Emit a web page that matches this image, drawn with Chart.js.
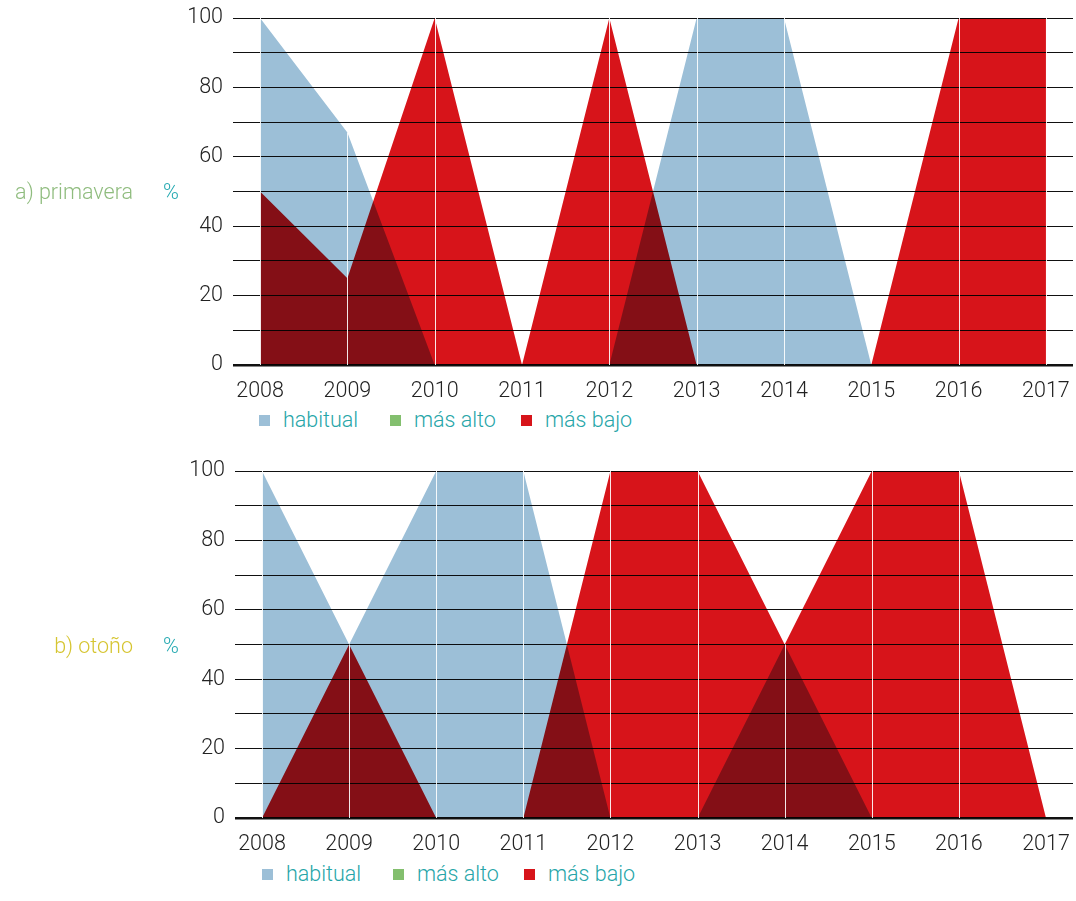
<!DOCTYPE html>
<html>
<head>
<meta charset="utf-8">
<script src="https://cdn.jsdelivr.net/npm/chart.js@4"></script>
<style>
  body { margin: 0; background: #fff; width: 1076px; height: 901px; position: relative; overflow: hidden; font-family: Roboto, 'Liberation Sans', sans-serif; font-weight: 300; }
  .box { position: absolute; height: 400px; }
  .title { position: absolute; width: 133px; left: 0; text-align: right; font-size: 21.5px; line-height: 24px; }
  .pct { position: absolute; left: 163px; font-size: 21.5px; line-height: 24px; color: #22a8b0; }
  .item { position: absolute; font-size: 21.5px; line-height: 24px; color: #26a5a8; white-space: nowrap; }
  .item span.sq { display: inline-block; width: 11px; height: 11px; vertical-align: middle; margin-right: 13px; position: relative; top: -1px; }
</style>
</head>
<body>
<div class="box" style="left:0;top:0;width:1076px"><canvas id="spring"></canvas></div>
<div class="box" style="left:2px;top:453px;width:1074px"><canvas id="autumn"></canvas></div>

<div class="title" style="top:180px;color:#8fbc7e">a) primavera</div>
<div class="pct" style="top:180px">%</div>
<div class="title" style="top:634px;color:#d6c531">b) otoño</div>
<div class="pct" style="top:634px">%</div>

<div id="leg1"></div>
<div id="leg2"></div>

<script>
// categories
const years = [2008, 2009, 2010, 2011, 2012, 2013, 2014, 2015, 2016, 2017];
const seriesNames = ['habitual', 'más alto', 'más bajo'];
const seriesColors = ['#9cbfd7', '#83bf6e', '#d7141a'];

// a) primavera
const springHabitual = [100, 67, 0, 0, 0, 100, 100, 0, 0, 0];
const springAlto = [0, 0, 0, 0, 0, 0, 0, 0, 0, 0];
const springBajo = [50, 25, 100, 0, 100, 0, 0, 0, 100, 100];

// b) otoño
const autumnHabitual = [100, 50, 100, 100, 0, 0, 50, 0, 0, 0];
const autumnAlto = [0, 0, 0, 0, 0, 0, 0, 0, 0, 0];
const autumnBajo = [0, 50, 0, 0, 100, 100, 50, 100, 100, 0];

const yTicks = [0, 20, 40, 60, 80, 100];

// overlapping areas blend like ink (blue x red = dark red)
const multiplyPlugin = {
  id: 'multiply',
  beforeDatasetsDraw(chart) { chart.ctx.save(); chart.ctx.globalCompositeOperation = 'multiply'; },
  afterDatasetsDraw(chart) {
    chart.ctx.restore();
    // white separators at each year, up to the highest value
    const ctx = chart.ctx, xs = chart.scales.x, ys = chart.scales.y;
    ctx.save();
    ctx.strokeStyle = 'rgba(255,255,255,0.9)';
    ctx.lineWidth = 1;
    years.forEach((yr, i) => {
      const top = Math.max(...chart.data.datasets.map(d => d.data[i].y));
      if (top <= 0) return;
      const px = Math.round(xs.getPixelForValue(yr)) + 0.5;
      ctx.beginPath();
      ctx.moveTo(px, ys.getPixelForValue(0));
      ctx.lineTo(px, ys.getPixelForValue(top));
      ctx.stroke();
    });
    ctx.restore();
  }
};

function makeChart(id, values) {
  new Chart(document.getElementById(id), {
    type: 'line',
    data: {
      datasets: values.map((vals, k) => ({
        label: seriesNames[k],
        data: years.map((yr, i) => ({ x: yr, y: vals[i] })),
        backgroundColor: seriesColors[k],
        borderWidth: 0,
        pointRadius: 0,
        tension: 0,
        fill: 'origin'
      }))
    },
    options: {
      responsive: true,
      maintainAspectRatio: false,
      animation: false,
      layout: { padding: { top: 18, right: 3, bottom: 0, left: 0 } },
      plugins: { legend: { display: false }, tooltip: { enabled: false } },
      scales: {
        x: {
          type: 'linear',
          min: years[0] - 0.31,
          max: years[years.length - 1] + 0.31,
          afterBuildTicks: s => { s.ticks = years.map(v => ({ value: v })); },
          grid: { display: false },
          border: { display: false },
          ticks: { color: '#222', padding: 6, font: { family: 'Roboto', weight: 300, size: 21.5 }, callback: v => String(v) },
          afterFit: s => { s.height = 35; s.paddingLeft = 0; s.paddingRight = 0; }
        },
        y: {
          min: 0, max: 100,
          z: 1,
          afterBuildTicks: s => { s.ticks = []; for (let v = 0; v <= 100; v += 10) s.ticks.push({ value: v }); },
          grid: {
            drawTicks: false,
            color: '#111',
            lineWidth: c => (c.tick && c.tick.value === 0 ? 2.5 : 1)
          },
          border: { display: false },
          ticks: {
            color: '#222', padding: 10,
            font: { family: 'Roboto', weight: 300, size: 21.5 },
            callback: v => (yTicks.includes(v) ? String(v) : '')
          },
          afterFit: s => { s.width = 233; s.paddingTop = 0; s.paddingBottom = 0; }
        }
      }
    },
    plugins: [multiplyPlugin]
  });
}

makeChart('spring', [springHabitual, springAlto, springBajo]);
makeChart('autumn', [autumnHabitual, autumnAlto, autumnBajo]);

// legend items: square + name, placed under each chart
function legend(id, left, top) {
  const lefts = [0, 131, 262];
  document.getElementById(id).innerHTML = seriesNames.map((n, k) =>
    `<div class="item" style="left:${left + lefts[k]}px;top:${top}px"><span class="sq" style="background:${seriesColors[k]}"></span>${n}</div>`).join('');
}
legend('leg1', 259, 408);
legend('leg2', 262, 862);
</script>
</body>
</html>
